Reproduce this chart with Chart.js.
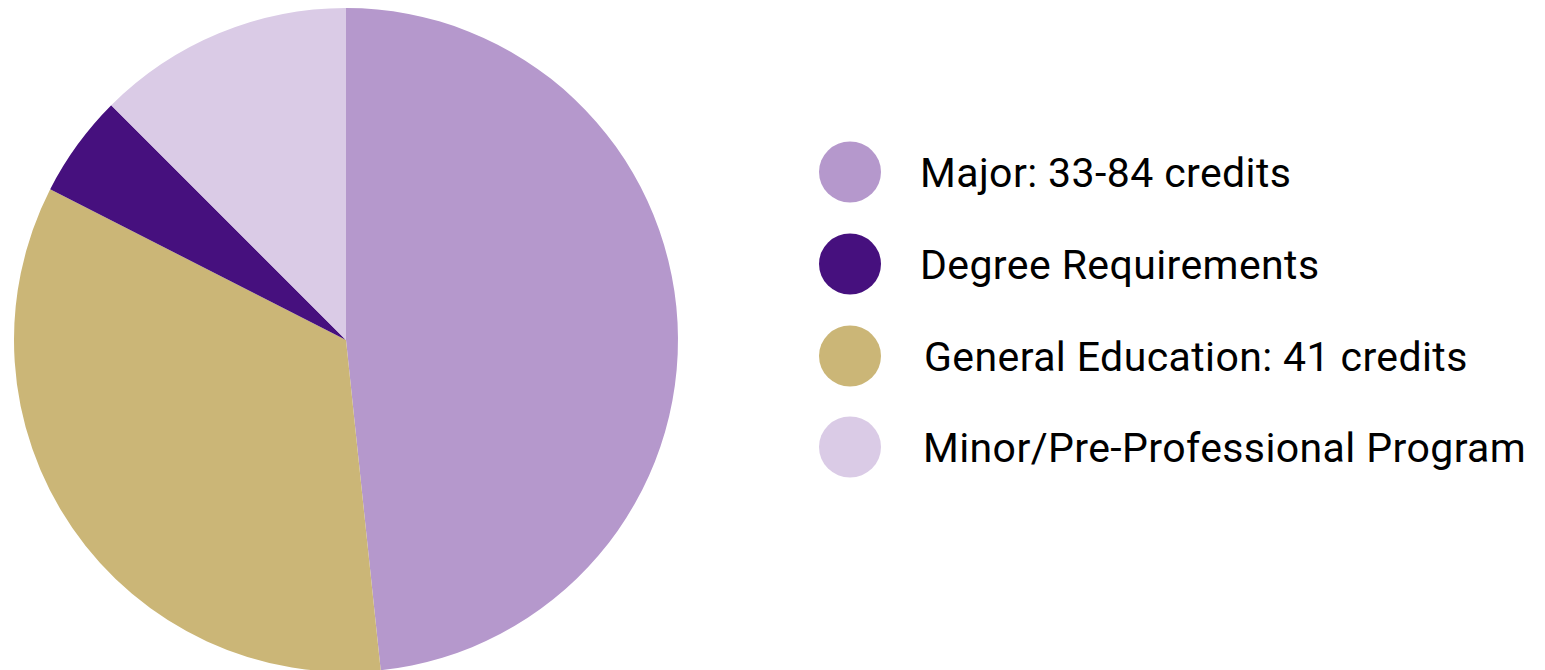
<!DOCTYPE html>
<html>
<head>
<meta charset="utf-8">
<script src="https://cdn.jsdelivr.net/npm/chart.js@4.4.0/dist/chart.umd.min.js"></script>
<style>
  html, body { margin: 0; padding: 0; background: #ffffff; overflow: hidden; }
  body { width: 1545px; height: 670px; position: relative; font-family: Roboto, "Noto Sans", sans-serif; }
  #pieWrap { position: absolute; left: 0; top: 0; width: 700px; height: 680px; }
  #legend { position: absolute; left: 0; top: 0; }
  .row { position: absolute; display: flex; align-items: center; transform: translateY(-50%); white-space: nowrap; }
  .dot { width: 62px; height: 61px; border-radius: 50%; margin-right: 0; }
  .label { font-size: 41px; color: #000000; letter-spacing: 0.4px; }
</style>
</head>
<body>
<div id="pieWrap"><canvas id="myChart" width="700" height="680"></canvas></div>
<div id="legend"></div>
<script>
// slice data, drawn clockwise from 12 o'clock
const categories = ['Major: 33-84 credits', 'General Education: 41 credits', 'Degree Requirements', 'Minor/Pre-Professional Program'];
const credits = [58, 41, 6, 15];
const colors = ['#b598cc', '#cbb677', '#46107e', '#dacbe6'];

// legend is listed in a different order than the slices
const legendOrder = [0, 2, 1, 3];
const legendY = [172, 264, 356, 447];
const legendTextX = [920, 920, 924, 923];

function initChart(target){
    const data = {
        labels: categories,
        datasets: [{
            data: credits,
            backgroundColor: colors,
            borderWidth: 0
        }]
    };
    const config = {
        type: 'pie',
        data: data,
        options: {
            responsive: false,
            animation: false,
            layout: { padding: { top: 8, bottom: 8, left: 14, right: 22 } },
            plugins: {
                legend: { display: false },
                tooltip: { enabled: false }
            }
        }
    };
    return new Chart(target, config);
}

function injectLegend(){
    const target = document.querySelector('#legend');
    target.innerHTML = '';
    legendOrder.forEach((idx, i) => {
        const row = document.createElement('div');
        row.className = 'row';
        row.style.left = '819px';
        row.style.top = legendY[i] + 'px';
        const dot = document.createElement('div');
        dot.className = 'dot';
        dot.style.background = colors[idx];
        const label = document.createElement('span');
        label.className = 'label';
        label.style.marginLeft = (legendTextX[i] - 819 - 62) + 'px';
        label.innerText = categories[idx];
        row.appendChild(dot);
        row.appendChild(label);
        target.appendChild(row);
    });
}

document.addEventListener('DOMContentLoaded', () => {
    initChart(document.querySelector('#myChart'));
    injectLegend();
});
</script>
</body>
</html>
